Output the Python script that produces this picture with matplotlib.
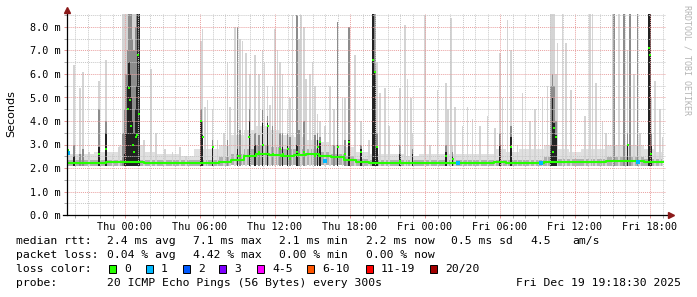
import numpy as np
import matplotlib.pyplot as plt
from matplotlib.patches import Rectangle

# --- Datos (horas relativas a Thu 00:00, valores en ms) ---
horas_base = list(range(-5, 44))
med_base = [2.2, 2.2, 2.2, 2.2, 2.25, 2.25, 2.25, 2.2, 2.2, 2.2,
            2.2, 2.2, 2.2, 2.25, 2.35, 2.5, 2.6, 2.55, 2.5, 2.55,
            2.6, 2.5, 2.45, 2.35, 2.25, 2.2, 2.2, 2.2, 2.2, 2.2,
            2.2, 2.2, 2.2, 2.2, 2.2, 2.25, 2.2, 2.2, 2.2, 2.25,
            2.25, 2.25, 2.25, 2.25, 2.3, 2.3, 2.3, 2.25, 2.25]
min_base = [2.08] * 14 + [2.12] * 9 + [2.08] * 26
max_base = [2.6, 2.6, 2.6, 2.7, 2.7, 3.0, 3.0, 2.7, 2.6, 2.6,
            2.5, 2.8, 2.8, 3.0, 3.4, 3.6, 3.8, 3.6, 3.4, 3.3,
            3.2, 3.1, 3.0, 2.9, 2.7, 2.6, 2.6, 2.6, 2.5, 2.6,
            2.6, 2.6, 2.6, 2.6, 2.6, 2.8, 2.7, 2.8, 2.8, 3.0,
            2.8, 2.7, 2.8, 2.8, 3.0, 3.0, 3.0, 2.8, 2.7]
mid_base = [2.35] * 13 + [2.45, 2.6, 2.8, 3.0, 2.9, 2.8, 2.8, 2.8, 2.7, 2.6,
                          2.5, 2.4] + [2.35] * 14 + [2.45, 2.4, 2.4, 2.4, 2.4,
                                                    2.45, 2.45, 2.45, 2.4, 2.4]

nan = np.nan
# picos: hora, max (humo claro), medio, oscuro, mediana
pico_t = [-4.6, -4.08, -3.6, -3.36, -2.9, -2.1, -1.5, -1.0, -0.5,
          -0.15, -0.05, 0.05, 0.2, 0.3, 0.4, 0.5, 0.6, 0.7, 0.85, 0.95, 1.05, 1.15,
          1.5, 2.1, 2.5, 3.2, 3.8, 4.4, 4.9, 6.05, 6.2, 6.4, 6.6, 7.0, 7.4, 7.9, 8.4,
          8.8, 9.0, 9.4, 9.7, 9.95, 10.4, 11.0, 11.15, 11.4, 11.6, 12.0, 12.2,
          12.6, 13.0, 13.4, 13.75, 14.1, 14.5, 14.8, 15.0, 15.4, 15.6, 16.0, 16.4,
          17.0, 17.4, 17.9, 18.4, 18.9, 19.5, 19.85, 20.0, 20.15, 20.4, 20.8, 21.1,
          22.0, 22.4, 22.6, 22.9, 23.0, 24.0, 24.4, 25.0, 25.7, 25.85, 26.1, 26.2,
          26.4, 27.0, 27.4, 27.8, 28.4, 29.0, 29.6, 30.0, 30.2, 30.6, 30.9, 31.4,
          31.8, 32.4, 32.8, 33.4, 33.8, 34.1, 34.2, 34.3, 34.45, 34.6, 35.0, 35.3,
          35.7, 36.8, 37.2, 37.4, 37.7, 38.2, 38.5, 39.0, 39.1, 39.5, 39.9, 40.2,
          40.4, 40.7, 41.0, 41.2, 41.9, 42.0, 42.1, 42.4, 42.8, 43.0,
          8.2, 9.2, 10.0, 10.7, 11.8, 12.4, 13.2, 13.9, 14.3, 15.2, 16.7, 17.6]
pico_max = [8.6, 6.4, 5.4, 6.1, 2.7, 5.7, 6.6, 2.6, 2.9,
            8.6, 8.6, 8.6, 8.6, 8.6, 8.6, 8.6, 8.6, 8.6, 8.6, 8.6, 8.6, 8.6,
            3.2, 6.2, 3.5, 2.8, 2.7, 2.9, 2.5, 7.4, 7.9, 4.6, 4.9, 4.5, 3.2, 3.5, 4.6,
            8.0, 8.0, 7.4, 6.9, 5.5, 6.8, 7.0, 6.5, 5.5, 4.7, 7.9, 7.0,
            6.0, 4.5, 8.5, 8.5, 8.5, 5.8, 6.0, 6.5, 4.3, 4.0, 3.8, 5.5,
            8.2, 5.0, 8.0, 6.8, 4.0, 3.2, 8.6, 8.6, 6.5, 5.2, 5.4, 3.8,
            5.4, 8.1, 5.8, 5.0, 3.5, 8.5, 3.0, 5.3, 5.6, 4.5, 8.4, 3.0,
            4.6, 3.8, 4.6, 4.1, 3.8, 4.2, 3.7, 6.9, 5.0, 8.3, 7.0, 3.0,
            5.2, 4.0, 4.5, 5.0, 5.5, 8.6, 8.6, 8.6, 6.0, 7.3, 8.6, 7.3,
            5.3, 4.2, 8.6, 8.6, 5.6, 4.0, 3.5, 8.6, 8.6, 8.6, 8.6, 7.0,
            8.6, 6.0, 8.6, 3.5, 8.6, 8.6, 5.0, 5.7, 4.5, 3.3,
            6.5, 7.5, 6.0, 6.0, 5.5, 6.5, 5.0, 7.5, 8.0, 5.5, 4.5, 5.0]
pico_mid = [4.0, 3.0, 2.6, 2.8, nan, 4.5, 4.0, nan, nan,
            3.5, 4.5, 6.0, 7.0, 8.6, 8.6, 8.6, 7.5, 7.0, 8.0, 8.6, 8.6, 8.6,
            nan, nan, nan, nan, nan, nan, nan, 4.5, 4.0, nan, nan, 3.2, nan, nan, nan,
            nan, 8.0, nan, nan, 4.5, 3.5, 4.5, nan, 4.2, nan, nan, nan,
            3.5, 3.5, nan, 8.5, nan, nan, nan, nan, 3.5, 3.3, nan, nan,
            8.2, nan, 8.0, nan, 3.0, nan, 8.6, 8.6, 3.5, nan, nan, nan,
            3.0, nan, nan, nan, 2.8, nan, nan, nan, 3.0, nan, nan, 2.7,
            nan, nan, nan, nan, nan, nan, nan, 3.5, nan, nan, 3.8, nan,
            nan, nan, nan, nan, nan, 5.5, 6.0, 5.5, 4.0, nan, nan, nan,
            nan, nan, nan, nan, nan, nan, nan, nan, 8.6, nan, 8.6, 3.5,
            8.6, nan, 8.6, nan, 8.6, 8.6, 3.5, nan, nan, nan,
            3.2, 3.6, 3.5, 3.4, 3.8, 3.5, 3.3, 3.6, 4.0, 3.4, 3.0, 3.2]
pico_osc = [3.3, 2.5, nan, nan, nan, 2.9, 3.5, nan, nan,
            nan, 2.6, 3.5, 5.5, 6.5, 6.0, 5.0, 4.0, 3.5, 4.5, 5.5, 8.6, 8.6,
            nan, nan, nan, nan, nan, nan, nan, 4.0, 3.4, nan, nan, 2.9, nan, nan, nan,
            nan, 2.8, nan, nan, 4.0, 3.0, 3.9, nan, 3.9, nan, nan, nan,
            2.9, 3.0, nan, 3.0, nan, nan, nan, nan, 3.2, 3.1, nan, nan,
            3.0, nan, 3.2, nan, 2.8, nan, 8.6, 6.1, 2.9, nan, nan, nan,
            2.6, nan, nan, nan, 2.6, nan, nan, nan, 2.7, nan, nan, 2.5,
            nan, nan, nan, nan, nan, nan, nan, 3.0, nan, nan, 3.3, nan,
            nan, nan, nan, nan, nan, 3.0, 5.0, 3.9, 3.4, nan, nan, nan,
            nan, nan, nan, nan, nan, nan, nan, nan, nan, nan, nan, 3.0,
            nan, nan, nan, nan, 8.6, 8.6, 3.0, nan, nan, nan,
            nan, nan, nan, nan, nan, nan, nan, nan, nan, nan, nan, nan]
pico_med = [2.75, nan, nan, nan, nan, 2.6, 2.8, nan, nan,
            nan, nan, nan, 4.5, 5.4, 4.9, 3.8, 3.0, 2.7, 3.3, 3.4, 6.8, 4.3,
            nan, nan, nan, nan, nan, nan, nan, 4.0, 3.3, nan, nan, 2.9, nan, nan, nan,
            nan, 2.5, nan, nan, 3.3, 2.5, 3.0, nan, 3.8, nan, nan, nan,
            2.6, 2.8, nan, 2.7, nan, nan, nan, nan, 2.9, 3.1, nan, nan,
            2.9, nan, 3.1, nan, 2.7, nan, 6.6, 6.1, 2.9, nan, nan, nan,
            2.3, nan, nan, nan, nan, nan, nan, nan, 2.5, nan, nan, 2.4,
            nan, nan, nan, nan, nan, nan, nan, nan, nan, nan, 2.9, nan,
            nan, nan, nan, nan, nan, nan, 2.7, 3.7, 3.3, nan, nan, nan,
            nan, nan, nan, nan, nan, nan, nan, nan, nan, nan, nan, 3.0,
            nan, nan, nan, nan, 7.1, 6.8, 2.6, nan, nan, nan,
            nan, 2.5, nan, 2.7, 2.6, 2.8, 2.4, 2.6, 2.7, 2.5, nan, 2.6]

# puntos con 1/20 de pérdida
perdida_t = [-4.6, 16.0, 26.6, 33.3, 41.0]
perdida_v = [2.65, 2.3, 2.2, 2.2, 2.25]

etiquetas_x = ['Thu 00:00', 'Thu 06:00', 'Thu 12:00', 'Thu 18:00',
               'Fri 00:00', 'Fri 06:00', 'Fri 12:00', 'Fri 18:00']
loss_labels = ['0', '1', '2', '3', '4-5', '6-10', '11-19', '20/20']
loss_colors = ['#26ff00', '#00b8ff', '#0059ff', '#7e00ff', '#ff00ff',
               '#ff5500', '#ff0000', '#a10000']
loss_x = [109, 146, 183, 219, 257, 307, 366, 430]

W, H = 697, 297
MONO = 'DejaVu Sans Mono'


def fx(x):
    return x / W


def fy(y):
    return 1 - y / H


fig = plt.figure(figsize=(W / 100, H / 100), dpi=100)
fig.patch.set_facecolor('white')
ax = fig.add_axes([fx(67), fy(215), (666 - 67) / W, (215 - 14) / H])

# humo de fondo
ax.fill_between(horas_base, min_base, max_base, step='mid', color='#e0e0e0', lw=0, zorder=1)
ax.fill_between(horas_base, min_base, mid_base, step='mid', color='#b0b0b0', lw=0, zorder=1.1)

# picos de humo
pt = np.array(pico_t)
for vals, col, z in [(pico_max, '#d4d4d4', 1.2), (pico_mid, '#8c8c8c', 1.3), (pico_osc, '#222222', 1.4)]:
    v = np.array(vals)
    m = ~np.isnan(v)
    ax.bar(pt[m], v[m] - 2.1, bottom=2.1, width=0.14, color=col, lw=0, zorder=z)

# mediana
ax.step(horas_base, med_base, where='mid', color=loss_colors[0], lw=1.5, zorder=3)
pm = np.array(pico_med)
m = ~np.isnan(pm)
ax.plot(pt[m], pm[m], 's', color=loss_colors[0], ms=1.8, mew=0, zorder=3.1)
ax.plot(perdida_t, perdida_v, 's', color=loss_colors[1], ms=2.2, mew=0, zorder=3.2)

ax.set_xlim((67 - 125) / 12.5, (666 - 125) / 12.5)
ax.set_ylim(0, (215 - 14) / 23.5)

ax.set_xticks(range(0, 43, 6))
ax.set_xticklabels(etiquetas_x)
ax.set_xticks(range(-4, 44), minor=True)
ax.set_yticks(range(0, 9))
ax.set_yticklabels([f'{v:.1f} m' for v in range(0, 9)])
ax.set_yticks(np.arange(0.5, 8.6, 1.0), minor=True)

ax.set_axisbelow(False)
ax.grid(which='minor', color='#c8c8c8', linestyle=(0, (1, 1)), lw=0.7)
ax.grid(which='major', color='#e9a0a0', linestyle=(0, (1, 1)), lw=0.7)

for s in ax.spines.values():
    s.set_visible(False)
ax.tick_params(which='both', length=2.2, width=0.6, colors='#999999', pad=2.5)
ax.tick_params(which='major', colors='#e08080')
for lab in ax.get_xticklabels() + ax.get_yticklabels():
    lab.set_color('black')
    lab.set_family(MONO)
    lab.set_fontsize(7.3)

# ejes con flechas
ax.plot([-4 / 599, 604 / 599], [0, 0], transform=ax.transAxes, color='black', lw=0.9, clip_on=False, zorder=6)
ax.plot([0, 0], [0, 1 + 3 / 201], transform=ax.transAxes, color='black', lw=0.9, clip_on=False, zorder=6)
ax.plot([604 / 599], [0], '>', transform=ax.transAxes, color='#8b1a1a', ms=4, clip_on=False, zorder=7)
ax.plot([0], [1 + 4 / 201], '^', transform=ax.transAxes, color='#8b1a1a', ms=4, clip_on=False, zorder=7)

fig.text(fx(11), fy(114), 'Seconds', rotation=90, ha='center', va='center', fontsize=8)
fig.text(fx(687), fy(60), 'RRDTOOL / TOBI OETIKER', rotation=270, ha='center', va='center',
         fontsize=6, color='#b4b4b4', family=MONO)

# leyenda inferior
fs = 8.2
fila1 = [(16, 'median rtt:'), (107, '2.4 ms avg'), (193, '7.1 ms max'), (279, '2.1 ms min'),
         (366, '2.2 ms now'), (451, '0.5 ms sd'), (530, '4.5'), (572, 'am/s')]
fila2 = [(16, 'packet loss:'), (107, '0.04 % avg'), (193, '4.42 % max'), (279, '0.00 % min'),
         (366, '0.00 % now')]
for x, t in fila1:
    fig.text(fx(x), fy(241), t, family=MONO, fontsize=fs, va='center')
for x, t in fila2:
    fig.text(fx(x), fy(255), t, family=MONO, fontsize=fs, va='center')
fig.text(fx(16), fy(269), 'loss color:', family=MONO, fontsize=fs, va='center')
for x, lab, col in zip(loss_x, loss_labels, loss_colors):
    fig.patches.append(Rectangle((fx(x), fy(272.5)), 7 / W, 8 / H, transform=fig.transFigure,
                                 facecolor=col, edgecolor='black', lw=0.7))
    fig.text(fx(x + 15), fy(269), lab, family=MONO, fontsize=fs, va='center')
fig.text(fx(16), fy(283), 'probe:', family=MONO, fontsize=fs, va='center')
fig.text(fx(107), fy(283), '20 ICMP Echo Pings (56 Bytes) every 300s', family=MONO, fontsize=fs, va='center')
fig.text(fx(681), fy(283), 'Fri Dec 19 19:18:30 2025', family=MONO, fontsize=fs, va='center', ha='right')

fig.savefig('out.png', dpi=100)
